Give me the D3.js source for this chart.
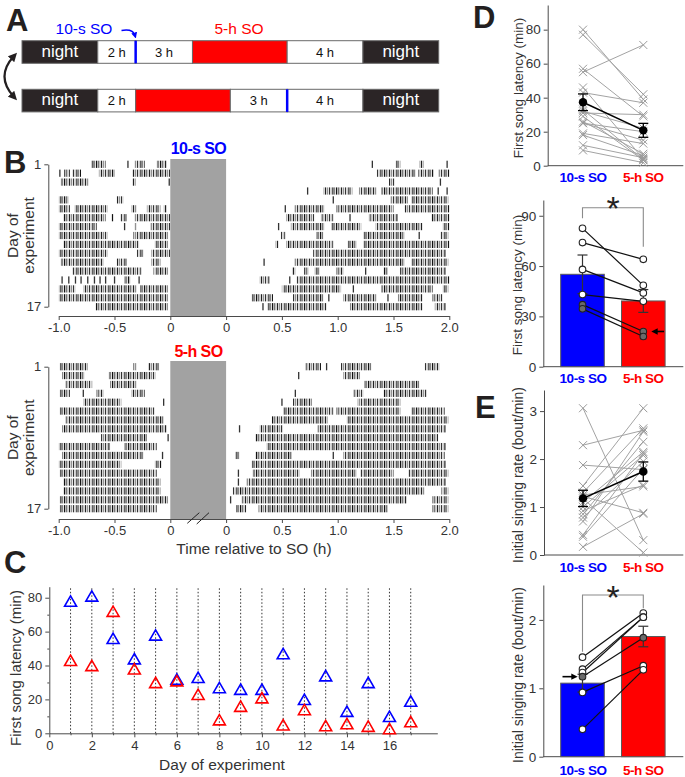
<!DOCTYPE html>
<html><head><meta charset="utf-8">
<script src="https://cdn.jsdelivr.net/npm/d3@7"></script>
<style>body{margin:0;background:#fff}svg{display:block;font-family:"Liberation Sans",Arial,sans-serif}</style>
</head><body><svg id="c" width="685" height="777"></svg>
<script>
// ---------------- DATA ----------------
// Panel A schedules: [label, hours]
const scheduleTenSecFirst = [["night",4],["2 h",2],["3 h",3],["",5],["4 h",4],["night",4]];
const scheduleFiveHourFirst = [["night",4],["2 h",2],["",5],["3 h",3],["4 h",4],["night",4]];
const tenSecSOHourTop = 6, tenSecSOHourBottom = 14;

// Panel B rasters: per day [pre-SO segments, post-SO segments] (hours relative to SO)
const rasterTenSec = [
 [[[-0.71,-0.58],[-0.38,-0.37],[-0.32,-0.23],[-0.12,-0.03]], [[1.31,1.31],[1.52,1.56],[1.73,1.77],[1.98,1.99]]],
 [[[-0.99,-0.98],[-0.95,-0.9],[-0.88,-0.8],[-0.64,-0.5],[-0.34,0]], [[1.35,1.7],[1.72,1.86],[1.9,2.0]]],
 [[[-0.98,-0.73],[-0.34,-0.31],[-0.01,0]], [[1.46,1.51],[1.92,1.93]]],
 [[], [[0.73,0.73],[0.87,1.13],[1.19,1.35],[1.39,1.85],[1.9,1.91],[1.98,1.98]]],
 [[[-1,-0.91],[-0.48,-0.42]], [[0.96,0.96],[1.47,1.63],[1.66,1.99]]],
 [[[-1,-0.9],[-0.86,-0.56],[-0.35,-0.3],[-0.21,-0.09],[-0.06,-0.03]], [[0.53,0.53],[0.61,0.88],[0.99,1.5],[1.6,2.0]]],
 [[[-0.96,-0.58],[-0.53,-0.51],[-0.45,-0.39],[-0.32,0]], [[0.54,0.79],[0.85,0.96],[1.11,1.11],[1.28,1.54],[1.84,2.0]]],
 [[[-1,-0.66],[-0.41,-0.4],[-0.32,-0.3],[-0.18,0]], [[0.47,0.48],[0.58,0.88],[0.94,1.21],[1.34,1.76],[1.94,2.0]]],
 [[[-1,-0.56],[-0.33,-0.02]], [[0.49,0.53],[0.81,0.87],[1.23,1.6],[1.73,1.73],[1.92,1.99]]],
 [[[-0.96,-0.28],[-0.14,-0.02]], [[0.44,0.47],[0.54,0.96],[1.09,1.17],[1.23,2.0]]],
 [[[-1,-0.56],[-0.3,-0.24],[-0.17,0]], [[0.78,1.97]]],
 [[[-0.98,-0.6],[-0.48,-0.39],[-0.17,-0.09]], [[0.34,0.34],[0.61,1.6],[1.66,1.99]]],
 [[[-0.88,-0.26],[-0.15,-0.02]], [[0.59,0.62],[0.7,0.74],[0.79,0.84],[0.99,1.05],[1.25,1.25],[1.41,1.45],[1.56,1.97]]],
 [[[-0.97,-0.96],[-0.91,-0.9],[-0.85,-0.84],[-0.8,-0.79],[-0.74,-0.73],[-0.68,-0.67],[-0.63,-0.62],[-0.58,-0.57],[-0.5,-0.49],[-0.41,-0.36],[-0.28,-0.27]], [[0.3,0.39],[0.57,0.57],[0.63,2.0]]],
 [[[-1,-0.85],[-0.78,-0.3],[-0.27,-0.02]], [[0.5,1.03],[1.14,1.14],[1.39,1.85],[1.94,1.99]]],
 [[[-1,-0.02]], [[0.23,0.42],[0.6,0.87],[0.92,0.92],[1.05,1.35],[1.45,1.45],[1.54,1.76],[1.85,1.94]]],
 [[[-0.67,-0.02]], [[0.33,0.33],[0.37,0.9],[1.11,1.76],[1.87,1.97]]]
];
const rasterFiveHour = [
 [[[-0.99,-0.74],[-0.33,-0.3],[-0.2,-0.1]], [[0.71,0.85],[0.9,0.9],[1.03,1.3],[1.78,1.91]]],
 [[[-0.97,-0.77],[-0.55,-0.13]], [[0.65,0.65],[1.05,1.2]]],
 [[[-0.94,-0.7],[-0.54,-0.3]], [[1.24,1.73]]],
 [[[-0.99,-0.9],[-0.78,-0.78],[-0.66,-0.6],[-0.35,-0.23]], [[0.62,0.62],[1.14,1.23],[1.41,1.8]]],
 [[[-0.78,-0.44],[-0.06,-0.06]], [[0.5,0.5],[0.6,0.77],[1.18,1.56]]],
 [[[-0.99,-0.14]], [[0.51,0.96],[0.99,1.56],[1.66,1.96]]],
 [[[-0.94,-0.06]], [[0.41,0.91],[1.08,1.99]]],
 [[[-0.97,-0.03]], [[0.12,0.12],[0.3,0.51],[0.82,1.97]]],
 [[[-0.62,-0.21],[-0.02,-0.02]], [[0.26,1.9]]],
 [[[-1,-0.54],[-0.41,-0.12]], [[0.36,1.97]]],
 [[[-0.97,-0.24],[-0.07,-0.07]], [[0.08,0.12],[0.26,0.59],[0.96,0.96],[1.05,1.96]]],
 [[[-1,-0.44],[-0.14,-0.08]], [[0.23,1.97]]],
 [[[-0.99,-0.12]], [[0.11,0.11],[0.24,0.66],[0.76,1.17],[1.2,1.5],[1.63,1.99]]],
 [[[-0.96,-0.09]], [[0.11,0.11],[0.18,1.97]]],
 [[[-0.96,-0.09]], [[0.06,1.78],[1.93,1.99]]],
 [[[-0.99,-0.02]], [[0.04,0.04],[0.14,1.62],[1.85,1.99]]],
 [[[-0.99,-0.12]], [[0.09,0.18],[0.29,1.45],[1.85,1.99]]]
];
const rasterTickValues = [-1,-0.5,0,0.5,1,1.5,2,2.5];   // display positions (post-SO shifted by the SO box)
const rasterTickLabels = ["-1.0","-0.5","0","0","0.5","1.0","1.5","2.0"];

// Panel C / D-top: first song latency per day (min)
const days = [1,2,3,4,5,6,7,8,9,10,11,12,13,14,15,16,17];
const latencyTenSec = [77,80,55,43,57,31,32,26,25,25,46,19,33,12,29,9,18];
const latencyFiveHour = [42,39,71,37,29,30,22,7,15,20,4,13,3.5,4.7,3.2,1.8,5.9];
const latencyMean = [37.3,20.8];
const latencySem = [4.9,4.1];

// Panel D-bottom: per bird
const conditions = ["10-s SO","5-h SO"];
const birdLatencyTenSec = [82.5,74,58,43,37,34.5];
const birdLatencyFiveHour = [48.5,64,44,39,21,18];
const birdLatencyGray = [false,false,false,false,true,true];
const birdLatencyMean = [55.1,39.2];
const birdLatencySem = [11.5,6.8];

// Panel E-top: initial singing rate per day (bout/min)
const rateTenSec = [3.06,2.29,1.875,1.44,1.30,1.22,1.18,1.10,1.00,0.92,0.85,0.78,0.70,0.42,0.38,0.17,1.25];
const rateFiveHour = [0.31,2.60,1.78,3.06,2.64,0.88,0.05,2.15,2.08,1.46,2.36,1.95,2.57,2.12,1.80,0.86,1.43];
const rateMean = [1.18,1.74];
const rateSem = [0.17,0.20];

// Panel E-bottom: per bird
const birdRateTenSec = [1.455,1.28,1.23,1.17,0.94,0.40];
const birdRateFiveHour = [2.10,2.04,2.04,1.74,1.33,1.27];
const birdRateGray = [false,false,false,true,false,false];
const birdRateMean = [1.075,1.757];
const birdRateSem = [0.13,0.15];

// ---------------- DRAW ----------------
const svg = d3.select('#c');
const FONT = '"Liberation Sans", Arial, sans-serif';
const BLUE='#0000ff', RED='#ff0000', DARK='#231f20', AX='#4a4a4a', TXT='#333';
svg.append('rect').attr('width',685).attr('height',777).attr('fill','#fff');
const defs = svg.append('defs');
const pat = defs.append('pattern').attr('id','tk').attr('patternUnits','userSpaceOnUse').attr('width',16).attr('height',10);
[[0,'#111',1.2],[1.8,'#555',1],[3.4,'#999',1],[5.0,'#222',1.2],[7.2,'#777',1],[9.0,'#333',1.1],[10.7,'#b5b5b5',1],[12.3,'#1a1a1a',1.2],[14.2,'#666',1]]
  .forEach(([x,c,w])=>pat.append('rect').attr('x',x).attr('y',0).attr('width',w).attr('height',10).attr('fill',c));
function mk(id,color){
  defs.append('marker').attr('id',id).attr('viewBox','0 0 10 10').attr('refX',5).attr('refY',5)
   .attr('markerWidth',4).attr('markerHeight',4).attr('orient','auto-start-reverse').attr('markerUnits','strokeWidth')
   .append('path').attr('d','M0,0 L10,5 L0,10 z').attr('fill',color);
}
mk('arD',DARK); mk('arB',BLUE); mk('arK','#000');

function styleAxis(g, fs){
  g.select('.domain').attr('stroke',AX);
  g.selectAll('.tick line').attr('stroke',AX);
  g.selectAll('.tick text').attr('fill',TXT).attr('font-size',fs).attr('font-family',FONT);
}
function letter(t,x,y){ svg.append('text').attr('x',x).attr('y',y).attr('font-size',31).attr('font-weight','bold').attr('fill',DARK).text(t); }
function vtext(x,y,str,fs){ svg.append('text').attr('transform',`translate(${x},${y}) rotate(-90)`).attr('text-anchor','middle').attr('dominant-baseline','central').attr('font-size',fs).attr('fill',TXT).text(str); }

// ===== Panel A =====
letter('A',6,31); letter('B',4,173); letter('C',4,573); letter('D',473,28); letter('E',475,418);
const hx = d3.scaleLinear().domain([0,22]).range([22,438.7]);
function schedule(sched, y0, h, soAt){
  let acc=0;
  sched.forEach(([lab,hrs])=>{
    const x0=hx(acc), x1=hx(acc+hrs); acc+=hrs;
    const type = lab==='night'?'night':(lab===''?'so':'day');
    svg.append('rect').attr('x',x0).attr('y',y0).attr('width',x1-x0).attr('height',h)
      .attr('fill', type==='night'?'#2b2526':(type==='so'?RED:'#fff')).attr('stroke','#6a6a6a').attr('stroke-width',1);
    if(lab) svg.append('text').attr('x',(x0+x1)/2).attr('y',y0+h/2+4.5).attr('text-anchor','middle')
      .attr('font-size',type==='night'?17:13).attr('fill',type==='night'?'#fff':'#111').text(lab);
  });
  svg.append('line').attr('x1',hx(soAt)).attr('x2',hx(soAt)).attr('y1',y0).attr('y2',y0+h).attr('stroke',BLUE).attr('stroke-width',2.5);
}
schedule(scheduleTenSecFirst,40.7,22.6,tenSecSOHourTop);
schedule(scheduleFiveHourFirst,89.3,22.6,tenSecSOHourBottom);
svg.append('text').attr('x',84).attr('y',33.5).attr('text-anchor','middle').attr('font-size',15.5).attr('fill',BLUE).text('10-s SO');
svg.append('text').attr('x',239).attr('y',33.5).attr('text-anchor','middle').attr('font-size',15.5).attr('fill',RED).text('5-h SO');
svg.append('path').attr('d','M121.5,30.5 Q133,28.5 135,35.5').attr('fill','none').attr('stroke',BLUE).attr('stroke-width',1.5).attr('marker-end','url(#arB)');
svg.append('path').attr('d','M14,56 Q-5,76.5 14,97').attr('fill','none').attr('stroke',DARK).attr('stroke-width',2.2).attr('marker-start','url(#arD)').attr('marker-end','url(#arD)');

// ===== Panel B =====
const xd = d3.scaleLinear().domain([-1,2.5]).range([58.7,449.3]);
function raster(rows, y1, y17, axisY, boxTop, title, color, titleY, brk){
  const ry = d3.scaleLinear().domain([1,17]).range([y1,y17]);
  svg.append('rect').attr('x',xd(0)).attr('y',boxTop).attr('width',xd(0.5)-xd(0)).attr('height',axisY-boxTop).attr('fill','#a2a2a2');
  rows.forEach((r,i)=>{
    const y = ry(i+1);
    [[r[0],0],[r[1],0.5]].forEach(([segs,off])=>{
      segs.forEach(([a,b])=>{
        const xa = xd(a+off), xb = xd(b+off);
        const single = (xb-xa)<2;
        svg.append('rect').attr('x',single?xa-0.6:xa).attr('y',y-3.6).attr('width',single?1.3:xb-xa).attr('height',7.2)
          .attr('fill',single?'#333':'url(#tk)');
      });
    });
  });
  const gy = svg.append('g').attr('transform','translate(48.3,0)').call(d3.axisLeft(ry).tickValues([1,17]).tickSize(4).tickSizeOuter(0).tickFormat(d3.format('d')));
  styleAxis(gy,13);
  const gx = svg.append('g').attr('transform',`translate(0,${axisY})`).call(d3.axisBottom(xd).tickValues(rasterTickValues).tickSize(4).tickSizeOuter(0).tickFormat((d,i)=>rasterTickLabels[i]));
  styleAxis(gx,13);
  svg.append('text').attr('x',198.5).attr('y',titleY).attr('text-anchor','middle').attr('font-size',16).attr('font-weight','bold').attr('letter-spacing',-0.6).attr('fill',color).text(title);
  vtext(12,(y1+y17)/2,'Day of',15.5); vtext(28,(y1+y17)/2,'experiment',15.5);
  if(brk){
    svg.append('line').attr('x1',187.3).attr('y1',523.3).attr('x2',199.3).attr('y2',512.7).attr('stroke','#222').attr('stroke-width',1);
    svg.append('line').attr('x1',196.7).attr('y1',524).attr('x2',209).attr('y2',512.7).attr('stroke','#222').attr('stroke-width',1);
  }
}
raster(rasterTenSec,164.3,306.7,316,159,'10-s SO',BLUE,154,false);
raster(rasterFiveHour,366.7,508.7,519,361,'5-h SO',RED,356.5,true);
svg.append('text').attr('x',254).attr('y',554).attr('text-anchor','middle').attr('font-size',15.5).attr('fill',TXT).text('Time relative to SO (h)');

// ===== Panel C =====
const xc = d3.scaleLinear().domain([0,18.25]).range([49.3,437.3]);
const yc = d3.scaleLinear().domain([0,86.5]).range([733.3,586.7]);
days.forEach(d=>svg.append('line').attr('x1',xc(d)).attr('x2',xc(d)).attr('y1',yc(0)).attr('y2',yc(86.5)).attr('stroke','#333').attr('stroke-width',1).attr('stroke-dasharray','1.5,2'));
const gcx = svg.append('g').attr('transform','translate(0,733.3)').call(d3.axisBottom(xc).tickValues([0,2,4,6,8,10,12,14,16]).tickSize(4).tickSizeOuter(0));
styleAxis(gcx,13);
const gcx2 = svg.append('g').attr('transform','translate(0,733.3)').call(d3.axisBottom(xc).tickValues([1,3,5,7,9,11,13,15,17]).tickSize(2).tickSizeOuter(0).tickFormat(''));
styleAxis(gcx2,13); gcx2.select('.domain').remove();
const gcy = svg.append('g').attr('transform','translate(49.3,0)').call(d3.axisLeft(yc).tickValues([0,20,40,60,80]).tickSize(4).tickSizeOuter(0));
styleAxis(gcy,13);
const gcy2 = svg.append('g').attr('transform','translate(49.3,0)').call(d3.axisLeft(yc).tickValues([10,30,50,70]).tickSize(2).tickSizeOuter(0).tickFormat(''));
styleAxis(gcy2,13); gcy2.select('.domain').remove();
const tri = d3.symbol().type(d3.symbolTriangle).size(62);
days.forEach((d,i)=>{
  svg.append('path').attr('d',tri()).attr('transform',`translate(${xc(d)},${yc(latencyTenSec[i])})`).attr('fill','none').attr('stroke',BLUE).attr('stroke-width',1.6);
  svg.append('path').attr('d',tri()).attr('transform',`translate(${xc(d)},${yc(latencyFiveHour[i])})`).attr('fill','none').attr('stroke',RED).attr('stroke-width',1.6);
});
vtext(15,668,'First song latency  (min)',15);
svg.append('text').attr('x',222).attr('y',770).attr('text-anchor','middle').attr('font-size',15.5).attr('fill',TXT).text('Day of experiment');

// ===== D / E helpers =====
const xcat = d3.scalePoint().domain(conditions).range([583,643.3]);
function frame(y, axisX, ticks, fs){
  const g = svg.append('g').attr('transform',`translate(${axisX},0)`).call(d3.axisLeft(y).tickValues(ticks).tickSize(4).tickSizeOuter(0).tickFormat(d3.format('d')));
  styleAxis(g,fs);
  svg.append('line').attr('x1',axisX).attr('x2',683.3).attr('y1',y(0)).attr('y2',y(0)).attr('stroke',AX);
}
function catLabels(yc_){
  conditions.forEach((c,i)=>svg.append('text').attr('x',xcat(c)).attr('y',yc_).attr('text-anchor','middle').attr('font-size',13.5).attr('font-weight','bold').attr('letter-spacing',-0.5).attr('fill',i?RED:BLUE).text(c));
}
function pairedX(y, a, b, mean, sem){
  const xa=xcat(conditions[0]), xb=xcat(conditions[1]);
  a.forEach((v,i)=>svg.append('line').attr('x1',xa).attr('x2',xb).attr('y1',y(v)).attr('y2',y(b[i])).attr('stroke','#a3a3a3').attr('stroke-width',1));
  [[a,xa],[b,xb]].forEach(([arr,x])=>arr.forEach(v=>svg.append('path').attr('d','M-4,-4L4,4M-4,4L4,-4').attr('transform',`translate(${x},${y(v)})`).attr('stroke','#9a9a9a').attr('stroke-width',1).attr('fill','none')));
  svg.append('line').attr('x1',xa).attr('x2',xb).attr('y1',y(mean[0])).attr('y2',y(mean[1])).attr('stroke','#000').attr('stroke-width',1.5);
  [xa,xb].forEach((x,i)=>{
    const t=y(mean[i]+sem[i]), bt=y(mean[i]-sem[i]);
    svg.append('line').attr('x1',x).attr('x2',x).attr('y1',t).attr('y2',bt).attr('stroke','#000').attr('stroke-width',1.3);
    [t,bt].forEach(yy=>svg.append('line').attr('x1',x-5).attr('x2',x+5).attr('y1',yy).attr('y2',yy).attr('stroke','#000').attr('stroke-width',1.3));
    svg.append('circle').attr('cx',x).attr('cy',y(mean[i])).attr('r',4.2).attr('fill','#000');
  });
}
function barsBirds(y, a, b, gray, mean, sem){
  const xs=[582.5,643.3];
  xs.forEach((x,i)=>{
    svg.append('rect').attr('x',x-21.8).attr('y',y(mean[i])).attr('width',43.6).attr('height',y(0)-y(mean[i])).attr('fill',i?RED:BLUE).attr('stroke','#5a5a5a').attr('stroke-width',1);
    const t=y(mean[i]+sem[i]), bt=y(mean[i]-sem[i]);
    svg.append('line').attr('x1',x).attr('x2',x).attr('y1',t).attr('y2',bt).attr('stroke','#333').attr('stroke-width',1.2);
    [t,bt].forEach(yy=>svg.append('line').attr('x1',x-5).attr('x2',x+5).attr('y1',yy).attr('y2',yy).attr('stroke','#333').attr('stroke-width',1.2));
  });
  a.forEach((v,i)=>svg.append('line').attr('x1',xs[0]).attr('x2',xs[1]).attr('y1',y(v)).attr('y2',y(b[i])).attr('stroke','#111').attr('stroke-width',1.2));
  [a,b].forEach((arr,k)=>arr.forEach((v,i)=>svg.append('circle').attr('cx',xs[k]).attr('cy',y(v)).attr('r',3.3).attr('fill',gray[i]?'#6a6a6a':'#fff').attr('stroke','#222').attr('stroke-width',1.1)));
}
function bracket(yl, ytop, yr, astY){
  svg.append('path').attr('d',`M582.5,${yl}V${ytop}H643.3V${yr}`).attr('fill','none').attr('stroke','#8a8a8a').attr('stroke-width',1.1);
  svg.append('text').attr('x',613).attr('y',astY).attr('text-anchor','middle').attr('font-size',34).attr('fill','#222').text('*');
}

// ===== Panel D top =====
const yD1 = d3.scaleLinear().domain([0,94.5]).range([165.7,5]);
frame(yD1,547.7,[0,20,40,60,80],13.5);
pairedX(yD1, latencyTenSec, latencyFiveHour, latencyMean, latencySem);
catLabels(181.5);
vtext(518,88,'First song latency (min)',13.5);

// ===== Panel D bottom =====
const yD2 = d3.scaleLinear().domain([0,99.4]).range([366.7,200]);
frame(yD2,543.3,[0,30,60,90],13.5);
barsBirds(yD2, birdLatencyTenSec, birdLatencyFiveHour, birdLatencyGray, birdLatencyMean, birdLatencySem);
bracket(218.3,207.7,246.7,220);
svg.append('line').attr('x1',664).attr('x2',654.5).attr('y1',yD2(21)).attr('y2',yD2(21)).attr('stroke','#000').attr('stroke-width',1.6).attr('marker-end','url(#arK)');
catLabels(382.5);
vtext(517,285,'First song latency (min)',13.5);

// ===== Panel E top =====
const yE1 = d3.scaleLinear().domain([0,3.44]).range([555,390]);
frame(yE1,544,[0,1,2,3],13.5);
pairedX(yE1, rateTenSec, rateFiveHour, rateMean, rateSem);
catLabels(571.5);
vtext(518,475,'Initial singing rate (bout/min)',14);

// ===== Panel E bottom =====
const yE2 = d3.scaleLinear().domain([0,2.51]).range([756.7,585]);
frame(yE2,543.3,[0,1,2],13.5);
barsBirds(yE2, birdRateTenSec, birdRateFiveHour, birdRateGray, birdRateMean, birdRateSem);
bracket(651.7,595,608.3,608.5);
svg.append('line').attr('x1',562.5).attr('x2',574.5).attr('y1',yE2(1.17)).attr('y2',yE2(1.17)).attr('stroke','#000').attr('stroke-width',1.6).attr('marker-end','url(#arK)');
catLabels(775);
vtext(518,675,'Initial singing rate (bout/min)',14);
</script></body></html>
